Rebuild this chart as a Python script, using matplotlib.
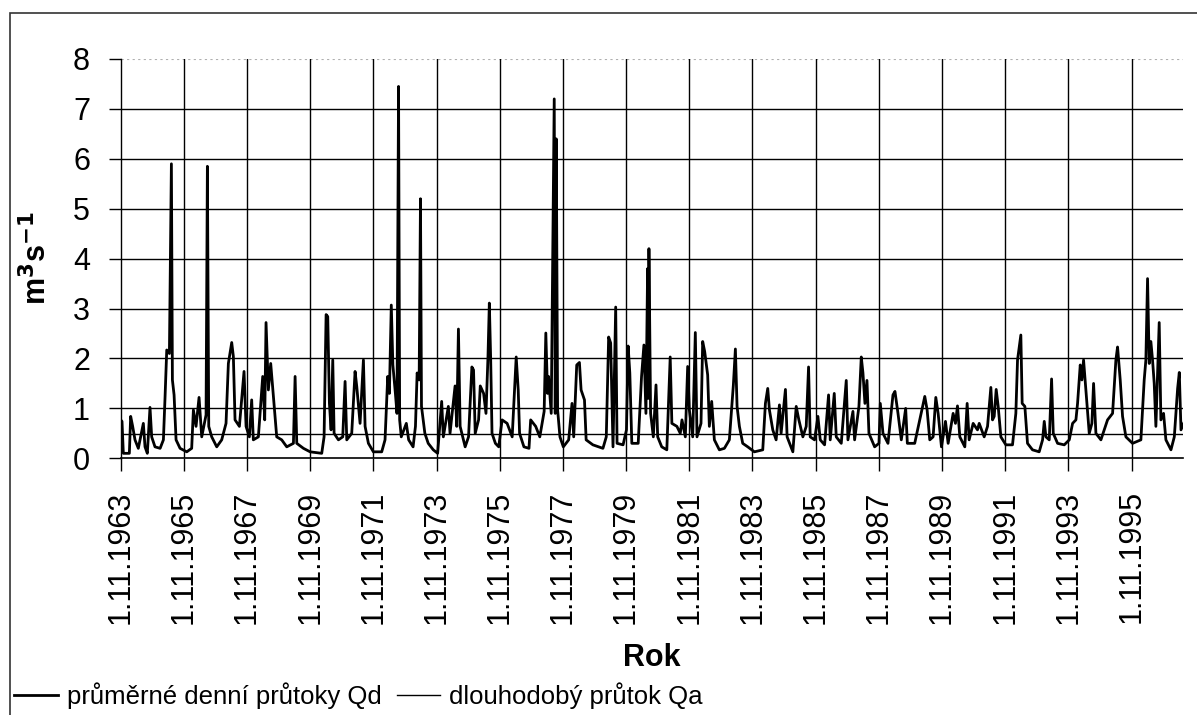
import pandas as pd
import matplotlib.pyplot as plt
from matplotlib.patches import Rectangle

plt.rcParams["font.family"] = ["Liberation Sans", "DejaVu Sans"]

# daily discharge Qd [m3/s], time given as decimal year
years = [
    1963.833, 1963.875, 1963.917, 1964.108, 1964.150, 1964.213, 1964.287, 1964.392,
    1964.551, 1964.604, 1964.677, 1964.762, 1964.815, 1964.920, 1965.080, 1965.184,
    1965.237, 1965.290, 1965.374, 1965.437, 1965.469, 1965.522, 1965.585, 1965.712,
    1965.923, 1966.080, 1966.134, 1966.218, 1966.313, 1966.398, 1966.535, 1966.577,
    1966.620, 1966.714, 1966.873, 1967.031, 1967.168, 1967.242, 1967.348, 1967.400,
    1967.453, 1967.591, 1967.738, 1967.802, 1967.907, 1967.980, 1968.033, 1968.192,
    1968.330, 1968.393, 1968.435, 1968.509, 1968.583, 1968.667, 1968.773, 1968.931,
    1969.089, 1969.300, 1969.353, 1969.406, 1969.617, 1969.828, 1970.197, 1970.271,
    1970.335, 1970.387, 1970.440, 1970.493, 1970.546, 1970.588, 1970.725, 1970.862,
    1970.936, 1970.989, 1971.147, 1971.253, 1971.306, 1971.411, 1971.517, 1971.570,
    1971.675, 1971.833, 1972.097, 1972.202, 1972.287, 1972.340, 1972.400, 1972.450,
    1972.530, 1972.580, 1972.630, 1972.665, 1972.716, 1972.876, 1972.950, 1973.088,
    1973.163, 1973.216, 1973.280, 1973.322, 1973.354, 1973.461, 1973.567, 1973.727,
    1973.865, 1973.993, 1974.046, 1974.205, 1974.258, 1974.418, 1974.471, 1974.524,
    1974.578, 1974.737, 1974.844, 1974.950, 1975.003, 1975.056, 1975.163, 1975.216,
    1975.322, 1975.397, 1975.460, 1975.503, 1975.546, 1975.588, 1975.695, 1975.801,
    1975.907, 1976.067, 1976.227, 1976.280, 1976.354, 1976.418, 1976.461, 1976.599,
    1976.759, 1976.812, 1976.971, 1977.099, 1977.237, 1977.290, 1977.344, 1977.376,
    1977.461, 1977.556, 1977.588, 1977.620, 1977.663, 1977.737, 1977.844, 1978.014,
    1978.120, 1978.173, 1978.269, 1978.354, 1978.407, 1978.514, 1978.567, 1978.780,
    1979.099, 1979.205, 1979.280, 1979.344, 1979.418, 1979.503, 1979.546, 1979.737,
    1979.844, 1979.897, 1979.950, 1980.014, 1980.216, 1980.322, 1980.397, 1980.461,
    1980.514, 1980.535, 1980.556, 1980.609, 1980.695, 1980.780, 1980.833, 1980.961,
    1981.120, 1981.227, 1981.280, 1981.439, 1981.546, 1981.600, 1981.706, 1981.780,
    1981.833, 1981.939, 1982.023, 1982.076, 1982.203, 1982.256, 1982.319, 1982.414,
    1982.467, 1982.541, 1982.626, 1982.784, 1982.943, 1983.101, 1983.228, 1983.292,
    1983.345, 1983.419, 1983.524, 1983.683, 1983.894, 1984.159, 1984.243, 1984.317,
    1984.370, 1984.476, 1984.582, 1984.687, 1984.740, 1984.877, 1984.930, 1985.110,
    1985.216, 1985.300, 1985.427, 1985.533, 1985.607, 1985.659, 1985.797, 1985.903,
    1985.977, 1986.115, 1986.241, 1986.294, 1986.421, 1986.484, 1986.643, 1986.801,
    1986.854, 1987.013, 1987.066, 1987.203, 1987.277, 1987.330, 1987.393, 1987.457,
    1987.520, 1987.700, 1987.837, 1987.879, 1987.964, 1988.123, 1988.281, 1988.344,
    1988.440, 1988.545, 1988.683, 1988.736, 1988.969, 1989.127, 1989.286, 1989.360,
    1989.444, 1989.550, 1989.635, 1989.709, 1989.814, 1989.941, 1990.026, 1990.184,
    1990.258, 1990.322, 1990.396, 1990.554, 1990.628, 1990.691, 1990.818, 1990.955,
    1991.010, 1991.168, 1991.274, 1991.379, 1991.432, 1991.485, 1991.548, 1991.611,
    1991.696, 1991.854, 1992.065, 1992.171, 1992.224, 1992.329, 1992.371, 1992.456,
    1992.540, 1992.698, 1992.910, 1993.015, 1993.068, 1993.121, 1993.226, 1993.300,
    1993.353, 1993.490, 1993.701, 1993.860, 1993.965, 1994.071, 1994.123, 1994.208,
    1994.260, 1994.313, 1994.387, 1994.493, 1994.577, 1994.630, 1994.704, 1994.862,
    1995.073, 1995.232, 1995.337, 1995.390, 1995.474, 1995.548, 1995.654, 1995.865,
    1996.129, 1996.234, 1996.287, 1996.340, 1996.393, 1996.445, 1996.498, 1996.551,
    1996.604, 1996.709, 1996.762, 1996.847, 1996.921, 1997.079, 1997.185, 1997.290,
    1997.343, 1997.396, 1997.480,
]
qd = [
    0.77, 0.74, 0.10, 0.10, 0.84, 0.64, 0.37, 0.20,
    0.70, 0.23, 0.10, 1.02, 0.43, 0.23, 0.20, 0.37,
    1.24, 2.17, 2.10, 5.90, 1.57, 1.27, 0.37, 0.20,
    0.13, 0.20, 0.97, 0.64, 1.22, 0.43, 0.87, 5.85,
    0.64, 0.43, 0.23, 0.37, 0.70, 1.90, 2.32, 2.04,
    0.77, 0.64, 1.74, 0.64, 0.43, 1.17, 0.37, 0.43,
    1.64, 0.77, 2.72, 1.37, 1.90, 1.24, 0.43, 0.37,
    0.23, 0.30, 1.64, 0.30, 0.20, 0.13, 0.10, 0.43,
    2.88, 2.84, 1.10, 0.57, 1.97, 0.50, 0.37, 0.43,
    1.54, 0.37, 0.50, 1.74, 1.44, 0.70, 1.97, 0.64,
    0.30, 0.13, 0.13, 0.37, 1.64, 1.30, 3.07, 1.87,
    1.30, 0.90, 7.45, 0.77, 0.43, 0.70, 0.37, 0.23,
    0.64, 1.71, 1.57, 5.20, 1.04, 0.50, 0.30, 0.17,
    0.10, 1.14, 0.43, 1.04, 0.50, 1.45, 0.64, 2.59,
    0.64, 0.23, 0.43, 1.83, 1.77, 0.50, 0.77, 1.45,
    1.30, 0.90, 2.03, 3.11, 1.97, 0.50, 0.30, 0.23,
    0.77, 0.70, 0.43, 1.10, 2.03, 1.37, 0.50, 0.23,
    0.20, 0.77, 0.64, 0.43, 0.94, 2.51, 1.30, 1.64,
    0.90, 7.20, 0.90, 6.40, 0.97, 0.43, 0.23, 0.37,
    1.10, 0.43, 1.87, 1.92, 1.37, 1.17, 0.37, 0.27,
    0.20, 0.43, 2.43, 2.31, 0.23, 3.03, 0.30, 0.27,
    0.57, 2.25, 1.71, 0.30, 0.30, 1.64, 2.27, 0.90,
    3.80, 1.20, 4.20, 0.90, 0.43, 1.47, 0.43, 0.23,
    0.17, 2.03, 0.70, 0.64, 0.50, 0.77, 0.43, 1.84,
    0.97, 0.43, 2.52, 0.43, 0.70, 2.34, 2.14, 1.67,
    0.64, 1.14, 0.37, 0.17, 0.20, 0.37, 1.47, 2.19,
    1.04, 0.64, 0.30, 0.23, 0.13, 0.17, 1.10, 1.40,
    0.97, 0.57, 0.37, 1.07, 0.50, 1.38, 0.43, 0.13,
    1.04, 0.77, 0.43, 0.64, 1.83, 0.43, 0.37, 0.84,
    0.37, 0.27, 1.27, 0.37, 1.30, 0.43, 0.30, 1.56,
    0.37, 0.94, 0.37, 1.04, 2.03, 1.71, 1.10, 1.56,
    0.50, 0.23, 0.30, 1.10, 0.50, 0.30, 1.27, 1.34,
    0.90, 0.37, 1.00, 0.30, 0.30, 0.77, 1.24, 0.97,
    0.37, 0.43, 1.22, 0.90, 0.23, 0.74, 0.30, 0.90,
    0.70, 1.05, 0.43, 0.23, 1.10, 0.37, 0.70, 0.57,
    0.70, 0.43, 0.64, 1.42, 0.77, 0.84, 1.38, 1.04,
    0.43, 0.27, 0.27, 0.90, 1.97, 2.47, 1.10, 1.04,
    0.30, 0.17, 0.13, 0.37, 0.74, 0.43, 0.37, 1.59,
    0.50, 0.30, 0.27, 0.37, 0.70, 0.77, 1.10, 1.87,
    1.57, 1.97, 1.37, 0.50, 0.70, 1.50, 0.50, 0.37,
    0.77, 0.90, 1.97, 2.23, 1.57, 0.84, 0.43, 0.30,
    0.37, 1.57, 1.97, 3.60, 1.90, 2.34, 1.97, 1.50,
    0.64, 2.72, 0.77, 0.90, 0.37, 0.17, 0.43, 1.40,
    1.72, 0.57, 0.70,
]
qa = 0.49  # long-term mean discharge

tick_years = list(range(1963, 1996, 2))
tick_labels = [f"1.11.{y}" for y in tick_years]


def to_date(y):
    yr = int(y)
    return pd.Timestamp(yr, 1, 1) + pd.Timedelta(days=(y - yr) * 365.25)


dates = [to_date(y) for y in years]
ticks = [pd.Timestamp(y, 11, 1) for y in tick_years]
x0, x1 = pd.Timestamp(1963, 11, 1), to_date(1997.46)

fig = plt.figure(figsize=(11.97, 7.15), dpi=100)
ax = fig.add_axes([0.1008, 0.359, 0.8875, 0.5585])

ax.plot(dates, qd, color="black", lw=2.0, label="průměrné denní průtoky Qd", zorder=3)
ax.plot([x0, x1], [qa, qa], color="black", lw=1.0, label="dlouhodobý průtok Qa", zorder=4)

ax.set_xlim(x0, x1)
ax.set_ylim(0, 8)
ax.set_yticks(range(0, 9))
ax.set_xticks(ticks)
ax.set_xticklabels(tick_labels, rotation=90)
ax.tick_params(axis="both", labelsize=22, length=9, width=1, direction="out")
ax.tick_params(axis="y", pad=13)
ax.tick_params(axis="x", pad=14)

for v in range(1, 8):
    ax.axhline(v, color="black", lw=1.0, zorder=1)
ax.axhline(8, color="#b0b0b0", lw=0.8, ls=(0, (2, 3)), zorder=1)
for t in ticks[1:]:
    ax.axvline(t, color="black", lw=1.0, zorder=1)

for s in ["top", "right"]:
    ax.spines[s].set_visible(False)
ax.spines["left"].set_linewidth(1.0)
ax.spines["bottom"].set_linewidth(1.2)

ax.set_ylabel("m$^\\mathbf{3}$s$^\\mathbf{-1}$", fontsize=22, fontweight="bold", labelpad=14)
ax.set_xlabel("Rok", fontsize=22, fontweight="bold", labelpad=14)

ax.legend(loc="lower left", bbox_to_anchor=(0.003, -0.006), bbox_transform=fig.transFigure,
          ncol=2, frameon=False, fontsize=18.5, handlelength=1.7, handletextpad=0.35,
          columnspacing=0.6, borderaxespad=0)

# outer chart frame
fig.add_artist(Rectangle((10 / 1197, -0.05), 1.1, 0.05 + (715 - 13) / 715,
                         transform=fig.transFigure, fill=False, ec="#333333", lw=1.2))

fig.savefig("out.png", dpi=100)
